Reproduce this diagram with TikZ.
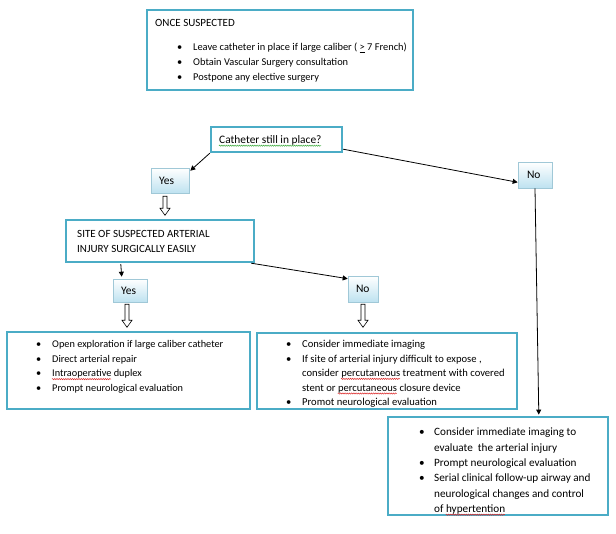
\documentclass[tikz,border=0pt]{standalone}
\usepackage{fontspec}
\setmainfont{Carlito}
\usetikzlibrary{arrows.meta,calc,decorations.pathmorphing}
\definecolor{teal4}{RGB}{75,172,198}
\definecolor{ynfill}{RGB}{190,226,240}
\definecolor{ynedge}{RGB}{160,200,215}
\definecolor{squigred}{RGB}{220,40,40}
\definecolor{squiggreen}{RGB}{60,170,60}
\newcommand\bl{\makebox[16pt][l]{\textbullet}}
\newcommand\bs{\makebox[16pt][l]{}}
\newcommand\blr{\makebox[15pt][l]{\textbullet}}
\newcommand\bsr{\makebox[15pt][l]{}}
\newsavebox\sqbox
\newcommand\squig[2]{\sbox\sqbox{#2}\usebox\sqbox\llap{\tikz[baseline=0pt]\draw[#1,line width=0.5pt,decorate,decoration={snake,amplitude=0.6pt,segment length=2.2pt}] (0pt,-2.2pt) -- (\wd\sqbox,-2.2pt);}}
\begin{document}
\begin{tikzpicture}[x=1pt,y=-1pt,font=\fontsize{10.2}{15}\selectfont,
  box/.style={draw=teal4, line width=2.4pt, fill=white, inner sep=0pt},
  yn/.style={draw=ynedge, line width=0.6pt, top color=white, bottom color=ynfill, inner xsep=0pt, inner ysep=0pt, align=left, font=\fontsize{11.5}{13}\selectfont},
  txt/.style={inner sep=0pt, anchor=base west, align=left},
  arr/.style={line width=0.8pt, -{Triangle[length=5pt,width=5pt]}},
  pics/harrow/.style={code={\draw[line width=0.6pt, fill=white] (-2,0) -- (-2,#1-7) -- (-5,#1-7) -- (0,#1) -- (5,#1-7) -- (2,#1-7) -- (2,0) -- cycle;}}]
\useasboundingbox[fill=white] (0,0) rectangle (616,534);

% boxes
\node[box, minimum width=266pt, minimum height=80pt] (once) at (280,50) {};
\node[box, minimum width=131pt, minimum height=25pt] (cath) at (276.5,139.5) {};
\node[yn, minimum width=38pt, minimum height=25pt, text width=22pt] (yes1) at (170,180.5) {Yes};
\node[yn, minimum width=34pt, minimum height=26pt, text width=16pt] (no1) at (535,175) {No};
\node[box, minimum width=188pt, minimum height=42pt] (site) at (160,241) {};
\node[yn, minimum width=34pt, minimum height=23pt, text width=18pt] (yes2) at (130,290.5) {Yes};
\node[yn, minimum width=30pt, minimum height=26pt, text width=14pt] (no2) at (363,289) {No};
\node[box, minimum width=243pt, minimum height=77pt] (boxl) at (128.5,370.5) {};
\node[box, minimum width=260pt, minimum height=76pt] (boxm) at (387,371) {};
\node[box, minimum width=220pt, minimum height=98pt] (boxr) at (498,466) {};

% texts
\node[txt, font=\fontsize{11}{15}\selectfont] (onceT) at (155,26.5) {ONCE SUSPECTED};
\node[txt, font=\fontsize{10.4}{15}\selectfont] (onceL) at (177,50.5) {\begin{tabular}[t]{@{}l@{}}
\bl Leave catheter in place if large caliber ( \underline{>} 7 French)\\
\bl Obtain Vascular Surgery consultation\\
\bl Postpone any elective surgery\end{tabular}};
\node[txt, font=\fontsize{11.4}{15}\selectfont] (cathT) at (219,143.5) {\squig{squiggreen}{Catheter still in place?}};
\node[txt, font=\fontsize{11}{15}\selectfont] (siteT) at (77,238) {\begin{tabular}[t]{@{}l@{}}
SITE OF SUSPECTED ARTERIAL\\
INJURY SURGICALLY EASILY\end{tabular}};
\node[txt, font=\fontsize{10.3}{14.7}\selectfont] (boxlT) at (36,347.5) {\begin{tabular}[t]{@{}l@{}}
\bl Open exploration if large caliber catheter\\
\bl Direct arterial repair\\
\bl \squig{squigred}{Intraoperative} duplex\\
\bl Prompt neurological evaluation\end{tabular}};
\node[txt, font=\fontsize{10.6}{14.6}\selectfont] (boxmT) at (286,347.5) {\begin{tabular}[t]{@{}l@{}}
\bl Consider immediate imaging\\
\bl If site of arterial injury difficult to expose ,\\
\bs consider \squig{squigred}{percutaneous} treatment with covered\\
\bs stent or \squig{squigred}{percutaneous} closure device\\
\bl Promot neurological evaluation\end{tabular}};
\node[txt, font=\fontsize{11.2}{15.3}\selectfont] (boxrT) at (419,436) {\begin{tabular}[t]{@{}l@{}}
\blr Consider immediate imaging to\\
\bsr evaluate\ \ the arterial injury\\
\blr Prompt neurological evaluation\\
\blr Serial clinical follow-up airway and\\
\bsr neurological changes and control\\
\bsr of \squig{squigred}{hypertention}\end{tabular}};

% connectors
\draw[arr] (cath.south west) -- ($(yes1.north east)+(1,3)$);
\draw[arr] ($(cath.south east)+(0,-4)$) -- ($(no1.south west)+(0,-6)$);
\draw[arr] (no1.south) -- ($(boxr.north west)+(152,-1.2)$);
\draw[arr] ($(site.south west)+(56,1)$) -- ($(yes2.north west)+(9,-2)$);
\draw[arr] ($(site.south east)+(-4,0)$) -- ($(no2.north west)+(0,3)$);

% hollow arrows
\pic at ($(yes1.south)+(-5,3)$) {harrow=19};
\pic at ($(yes2.south)+(-3,2)$) {harrow=23};
\pic at ($(no2.south)+(0,2)$) {harrow=23};
\end{tikzpicture}
\end{document}
